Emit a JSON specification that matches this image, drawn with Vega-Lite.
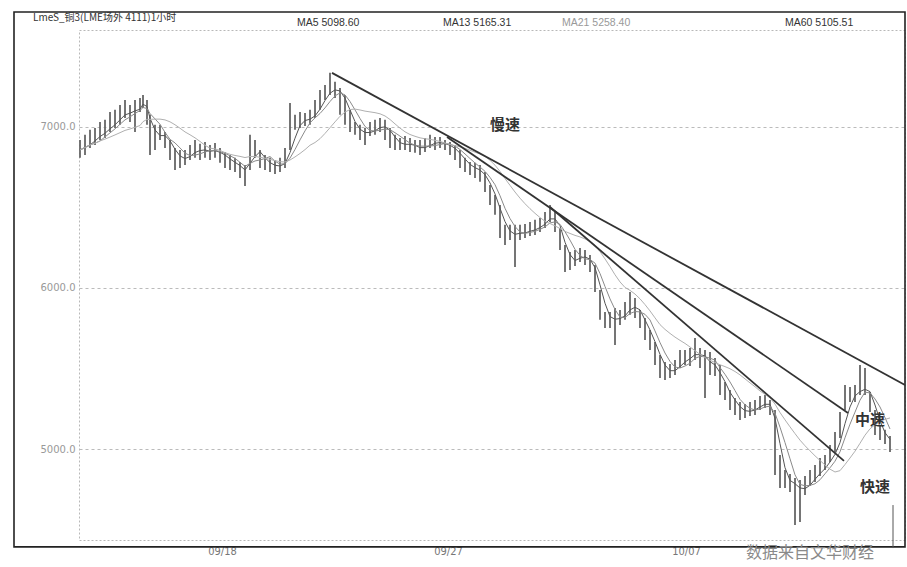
{
"$schema":"https://vega.github.io/schema/vega-lite/v6.json",
"width":826,"height":510,
"autosize":{"type":"none"},
"padding":{"left":79,"top":30,"right":2,"bottom":27},
"background":"white",
"config":{"view":{"stroke":"#b8b8b8","strokeDash":[2,2],"strokeWidth":1},"font":"DejaVu Sans"},
"datasets":{
"bars":[
{"t":1,"h":6919,"l":6808,"c":6857},{"t":6,"h":6951,"l":6826,"c":6888},{"t":11,"h":6982,"l":6870,"c":6919},{"t":16,"h":6994,"l":6888,"c":6932},{"t":21,"h":7031,"l":6919,"c":6969},{"t":26,"h":7044,"l":6932,"c":6982},{"t":31,"h":7093,"l":6969,"c":7013},{"t":36,"h":7106,"l":6994,"c":7044},{"t":41,"h":7137,"l":7013,"c":7075},{"t":46,"h":7168,"l":7056,"c":7106},{"t":51,"h":7137,"l":7031,"c":7075},{"t":56,"h":7168,"l":6969,"c":7118},{"t":61,"h":7180,"l":7093,"c":7137},{"t":64,"h":7199,"l":7118,"c":7168},{"t":68,"h":7168,"l":7013,"c":7075},{"t":71,"h":7075,"l":6826,"c":6919},
{"t":76,"h":7013,"l":6857,"c":6951},{"t":81,"h":7013,"l":6919,"c":6969},{"t":86,"h":6969,"l":6870,"c":6919},{"t":91,"h":6919,"l":6795,"c":6857},{"t":96,"h":6870,"l":6733,"c":6808},{"t":101,"h":6857,"l":6745,"c":6795},{"t":106,"h":6857,"l":6764,"c":6808},{"t":111,"h":6888,"l":6795,"c":6845},{"t":116,"h":6919,"l":6808,"c":6870},{"t":121,"h":6895,"l":6795,"c":6845},{"t":126,"h":6907,"l":6808,"c":6857},{"t":131,"h":6888,"l":6795,"c":6845},{"t":136,"h":6901,"l":6808,"c":6857},{"t":141,"h":6870,"l":6777,"c":6826},{"t":146,"h":6845,"l":6745,"c":6795},{"t":151,"h":6826,"l":6733,"c":6783},{"t":156,"h":6808,"l":6720,"c":6764},{"t":161,"h":6783,"l":6683,"c":6733},{"t":166,"h":6764,"l":6634,"c":6702},{"t":171,"h":6951,"l":6733,"c":6888},
{"t":176,"h":6919,"l":6808,"c":6857},{"t":181,"h":6857,"l":6745,"c":6795},{"t":186,"h":6826,"l":6733,"c":6777},{"t":191,"h":6808,"l":6720,"c":6764},{"t":196,"h":6795,"l":6708,"c":6745},{"t":201,"h":6808,"l":6720,"c":6764},{"t":206,"h":6870,"l":6745,"c":6808},{"t":211,"h":7149,"l":6857,"c":6951},{"t":216,"h":7075,"l":6982,"c":7031},{"t":221,"h":7093,"l":6994,"c":7044},{"t":226,"h":7087,"l":7006,"c":7044},{"t":231,"h":7106,"l":7013,"c":7056},{"t":236,"h":7168,"l":7056,"c":7106},{"t":241,"h":7230,"l":7106,"c":7168},{"t":246,"h":7261,"l":7168,"c":7218},{"t":251,"h":7336,"l":7199,"c":7242},{"t":256,"h":7280,"l":7180,"c":7230},{"t":261,"h":7242,"l":7075,"c":7199},{"t":266,"h":7199,"l":7013,"c":7106},{"t":271,"h":7106,"l":6969,"c":7013},
{"t":276,"h":7031,"l":6951,"c":6982},{"t":281,"h":7013,"l":6919,"c":6963},{"t":286,"h":6994,"l":6888,"c":6951},{"t":291,"h":7031,"l":6944,"c":6982},{"t":296,"h":7044,"l":6951,"c":6994},{"t":301,"h":7056,"l":6969,"c":7013},{"t":306,"h":7044,"l":6919,"c":6994},{"t":311,"h":6994,"l":6870,"c":6932},{"t":316,"h":6951,"l":6857,"c":6888},{"t":321,"h":6932,"l":6857,"c":6888},{"t":326,"h":6944,"l":6857,"c":6901},{"t":331,"h":6932,"l":6845,"c":6888},{"t":336,"h":6919,"l":6839,"c":6870},{"t":341,"h":6919,"l":6826,"c":6857},{"t":346,"h":6932,"l":6845,"c":6888},{"t":351,"h":6951,"l":6870,"c":6907},{"t":356,"h":6938,"l":6857,"c":6901},{"t":361,"h":6938,"l":6870,"c":6901},{"t":366,"h":6919,"l":6857,"c":6888},{"t":371,"h":6907,"l":6826,"c":6870},
{"t":376,"h":6888,"l":6795,"c":6845},{"t":381,"h":6857,"l":6745,"c":6795},{"t":386,"h":6808,"l":6720,"c":6764},{"t":391,"h":6783,"l":6702,"c":6745},{"t":396,"h":6777,"l":6683,"c":6733},{"t":401,"h":6764,"l":6659,"c":6720},{"t":406,"h":6720,"l":6596,"c":6659},{"t":411,"h":6640,"l":6516,"c":6578},{"t":416,"h":6578,"l":6454,"c":6516},{"t":421,"h":6516,"l":6311,"c":6392},{"t":426,"h":6392,"l":6267,"c":6329},{"t":431,"h":6392,"l":6298,"c":6342},{"t":436,"h":6392,"l":6131,"c":6329},{"t":441,"h":6392,"l":6298,"c":6348},{"t":446,"h":6398,"l":6311,"c":6348},{"t":451,"h":6410,"l":6323,"c":6360},{"t":456,"h":6423,"l":6329,"c":6373},{"t":461,"h":6435,"l":6348,"c":6392},{"t":466,"h":6472,"l":6373,"c":6423},{"t":471,"h":6516,"l":6410,"c":6472},
{"t":476,"h":6472,"l":6348,"c":6392},{"t":481,"h":6373,"l":6236,"c":6298},{"t":486,"h":6267,"l":6100,"c":6162},{"t":491,"h":6224,"l":6112,"c":6162},{"t":496,"h":6236,"l":6137,"c":6187},{"t":501,"h":6249,"l":6162,"c":6205},{"t":506,"h":6236,"l":6143,"c":6187},{"t":511,"h":6205,"l":6100,"c":6143},{"t":516,"h":6143,"l":5975,"c":6050},{"t":521,"h":5988,"l":5802,"c":5864},{"t":526,"h":5851,"l":5752,"c":5802},{"t":531,"h":5851,"l":5752,"c":5802},{"t":536,"h":5876,"l":5646,"c":5814},{"t":541,"h":5864,"l":5770,"c":5814},{"t":546,"h":5913,"l":5802,"c":5851},{"t":551,"h":5975,"l":5833,"c":5926},{"t":556,"h":5938,"l":5814,"c":5864},{"t":561,"h":5864,"l":5752,"c":5802},{"t":566,"h":5814,"l":5677,"c":5739},{"t":571,"h":5739,"l":5615,"c":5677},
{"t":576,"h":5665,"l":5522,"c":5584},{"t":581,"h":5584,"l":5441,"c":5503},{"t":586,"h":5541,"l":5429,"c":5478},{"t":591,"h":5528,"l":5441,"c":5478},{"t":596,"h":5553,"l":5460,"c":5503},{"t":601,"h":5615,"l":5503,"c":5553},{"t":606,"h":5615,"l":5522,"c":5565},{"t":611,"h":5628,"l":5516,"c":5565},{"t":616,"h":5690,"l":5553,"c":5628},{"t":621,"h":5628,"l":5503,"c":5565},{"t":626,"h":5615,"l":5317,"c":5541},{"t":631,"h":5603,"l":5460,"c":5522},{"t":636,"h":5565,"l":5454,"c":5503},{"t":641,"h":5522,"l":5336,"c":5398},{"t":646,"h":5416,"l":5305,"c":5354},{"t":651,"h":5367,"l":5242,"c":5305},{"t":656,"h":5317,"l":5211,"c":5255},{"t":661,"h":5292,"l":5180,"c":5230},{"t":666,"h":5280,"l":5193,"c":5230},{"t":671,"h":5292,"l":5205,"c":5242},
{"t":676,"h":5305,"l":5211,"c":5255},{"t":681,"h":5329,"l":5242,"c":5286},{"t":686,"h":5336,"l":5255,"c":5292},{"t":691,"h":5305,"l":5211,"c":5255},{"t":696,"h":5242,"l":4839,"c":5025},{"t":701,"h":4963,"l":4758,"c":4820},{"t":706,"h":4870,"l":4758,"c":4807},{"t":711,"h":4845,"l":4733,"c":4789},{"t":716,"h":4820,"l":4528,"c":4758},{"t":721,"h":4807,"l":4547,"c":4727},{"t":726,"h":4833,"l":4714,"c":4777},{"t":731,"h":4870,"l":4770,"c":4820},{"t":736,"h":4901,"l":4795,"c":4839},{"t":741,"h":4944,"l":4833,"c":4882},{"t":746,"h":4963,"l":4870,"c":4913},{"t":751,"h":5025,"l":4920,"c":4963},{"t":756,"h":5106,"l":4982,"c":5025},{"t":761,"h":5230,"l":5069,"c":5131},{"t":766,"h":5398,"l":5242,"c":5317},{"t":771,"h":5385,"l":5292,"c":5336},
{"t":776,"h":5398,"l":5292,"c":5336},{"t":781,"h":5522,"l":5336,"c":5398},{"t":786,"h":5503,"l":5336,"c":5379},{"t":791,"h":5354,"l":5230,"c":5292},{"t":796,"h":5242,"l":5087,"c":5149},{"t":801,"h":5149,"l":5056,"c":5087},{"t":806,"h":5119,"l":5031,"c":5069},{"t":811,"h":5081,"l":4982,"c":5025}
],
"trend":[
{"name":"slow","t":253,"v":7336},{"name":"slow","t":826,"v":5398},
{"name":"medium","t":368,"v":6938},{"name":"medium","t":769,"v":5224},
{"name":"fast","t":471,"v":6503},{"name":"fast","t":765,"v":4926}
],
"notes":[
{"t":426,"v":7013,"text":"慢速","kind":"speed"},
{"t":791,"v":5180,"text":"中速","kind":"speed"},
{"t":796,"v":4764,"text":"快速","kind":"speed"},
{"t":-46,"v":7677,"text":"LmeS_铜3(LME场外 4111)1小时","kind":"head"},
{"t":218,"v":7646,"text":"MA5 5098.60","kind":"ma"},
{"t":364,"v":7646,"text":"MA13 5165.31","kind":"ma"},
{"t":483,"v":7646,"text":"MA21 5258.40","kind":"ma2"},
{"t":706,"v":7646,"text":"MA60  5105.51","kind":"ma"},
{"t":731,"v":4354,"text":"数据来自文华财经","kind":"source"}
],
"frame":[{"x1":-65,"x2":826,"y1":4392,"y2":7714}],
"cursor":[{"t":814,"v1":4652,"v2":4385}]
},
"layer":[
{"data":{"name":"frame"},"mark":{"type":"rect","fill":"transparent","stroke":"#222","strokeWidth":1.6},
 "encoding":{
  "x":{"field":"x1","type":"quantitative","scale":{"domain":[0,826],"nice":false,"zero":false},"axis":{"title":null,"values":[143,369,607],"labelExpr":"datum.value==143?'09/18':datum.value==369?'09/27':'10/07'","ticks":false,"domain":false,"grid":false,"labelColor":"#777","labelFontSize":11,"labelPadding":5,"labelFont":"DejaVu Sans Condensed"}},
  "x2":{"field":"x2"},
  "y":{"field":"y1","type":"quantitative","scale":{"domain":[4435,7602],"nice":false,"zero":false},"axis":{"title":null,"values":[5000,6000,7000],"format":".1f","ticks":false,"domain":false,"grid":true,"gridDash":[3,3],"gridColor":"#bbb","labelColor":"#999","labelFontSize":10,"labelPadding":4}},
  "y2":{"field":"y2"}}},
{"data":{"name":"bars"},"mark":{"type":"rule","color":"#666","strokeWidth":1.8},
 "encoding":{
  "x":{"field":"t","type":"quantitative"},
  "y":{"field":"l","type":"quantitative"},
  "y2":{"field":"h"}}},
{"data":{"name":"bars"},
 "transform":[
  {"window":[{"op":"mean","field":"c","as":"ma13"}],"frame":[-2,0],"sort":[{"field":"t"}]},
  {"window":[{"op":"mean","field":"c","as":"ma21"}],"frame":[-4,0],"sort":[{"field":"t"}]},
  {"window":[{"op":"mean","field":"c","as":"ma60"}],"frame":[-12,0],"sort":[{"field":"t"}]},
  {"fold":["ma13","ma21","ma60"],"as":["ma","val"]}],
 "mark":{"type":"line","strokeWidth":1},
 "encoding":{
  "x":{"field":"t","type":"quantitative"},
  "y":{"field":"val","type":"quantitative"},
  "color":{"field":"ma","type":"nominal","scale":{"domain":["ma13","ma21","ma60"],"range":["#555","#8a8a8a","#b0b0b0"]},"legend":null}}},
{"data":{"name":"trend"},"mark":{"type":"line","color":"#333","strokeWidth":1.8,"clip":true},
 "encoding":{
  "x":{"field":"t","type":"quantitative"},
  "y":{"field":"v","type":"quantitative"},
  "detail":{"field":"name"}}},
{"data":{"name":"cursor"},"mark":{"type":"rule","color":"#555","strokeWidth":1},
 "encoding":{
  "x":{"field":"t","type":"quantitative"},
  "y":{"field":"v1","type":"quantitative"},
  "y2":{"field":"v2"}}},
{"data":{"name":"notes"},"transform":[{"filter":"datum.kind=='speed'"}],
 "mark":{"type":"text","font":"Noto Sans CJK SC","fontSize":15,"fontWeight":"bold","color":"#333"},
 "encoding":{"x":{"field":"t","type":"quantitative"},"y":{"field":"v","type":"quantitative"},"text":{"field":"text"}}},
{"data":{"name":"notes"},"transform":[{"filter":"datum.kind=='head'"}],
 "mark":{"type":"text","font":"Noto Sans CJK SC","fontSize":10,"align":"left","color":"#333"},
 "encoding":{"x":{"field":"t","type":"quantitative"},"y":{"field":"v","type":"quantitative"},"text":{"field":"text"}}},
{"data":{"name":"notes"},"transform":[{"filter":"datum.kind=='ma'"}],
 "mark":{"type":"text","font":"Liberation Sans","fontSize":10.5,"align":"left","color":"#333"},
 "encoding":{"x":{"field":"t","type":"quantitative"},"y":{"field":"v","type":"quantitative"},"text":{"field":"text"}}},
{"data":{"name":"notes"},"transform":[{"filter":"datum.kind=='ma2'"}],
 "mark":{"type":"text","font":"Liberation Sans","fontSize":10.5,"align":"left","color":"#999"},
 "encoding":{"x":{"field":"t","type":"quantitative"},"y":{"field":"v","type":"quantitative"},"text":{"field":"text"}}},
{"data":{"name":"notes"},"transform":[{"filter":"datum.kind=='source'"}],
 "mark":{"type":"text","font":"Noto Sans CJK SC","fontSize":16,"color":"#8a8a8a"},
 "encoding":{"x":{"field":"t","type":"quantitative"},"y":{"field":"v","type":"quantitative"},"text":{"field":"text"}}}
]
}
